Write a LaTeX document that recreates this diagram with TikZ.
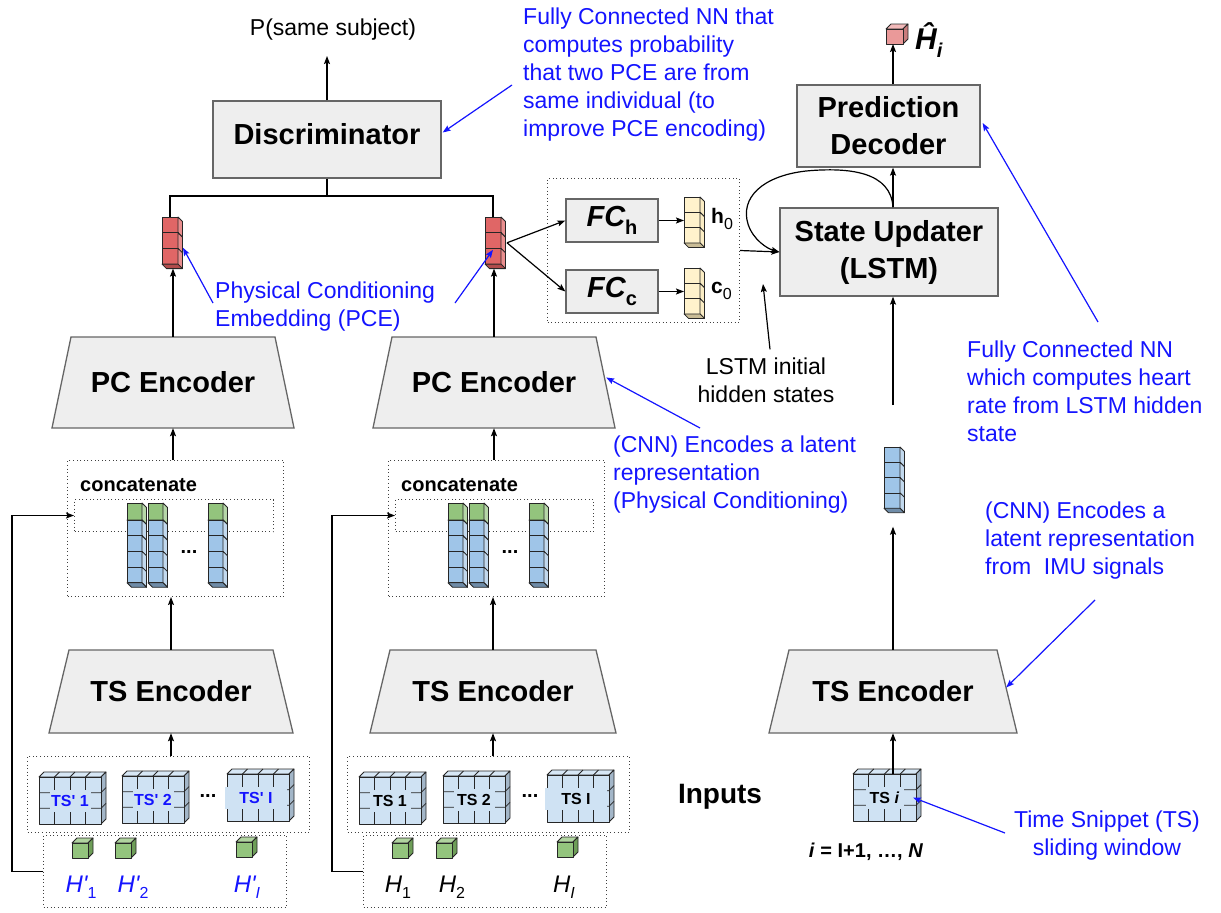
\documentclass[tikz,border=0pt]{standalone}
\usepackage{fontspec}
\setmainfont{Liberation Sans}
\usetikzlibrary{arrows.meta,calc}

\definecolor{boxfill}{HTML}{EEEEEE}
\definecolor{boxline}{HTML}{666666}
\definecolor{annot}{RGB}{20,20,255}
\definecolor{redF}{HTML}{E06666}
\definecolor{redS}{HTML}{EA8E8E}
\definecolor{redB}{HTML}{B04C4C}
\definecolor{bluF}{HTML}{9FC5E8}
\definecolor{bluS}{HTML}{C2D9EE}
\definecolor{bluB}{HTML}{6F8CA8}
\definecolor{grnF}{HTML}{93C47D}
\definecolor{grnS}{HTML}{B6D7A8}
\definecolor{grnT}{HTML}{B0D49F}
\definecolor{grnD}{HTML}{6E9E58}
\definecolor{ylwF}{HTML}{FFF2CC}
\definecolor{ylwS}{HTML}{FBEDC4}
\definecolor{ylwB}{HTML}{C9BC96}
\definecolor{tsF}{HTML}{CFE2F3}
\definecolor{tsT}{HTML}{D7E7F5}
\definecolor{tsS}{HTML}{A3B6C8}
\definecolor{pinkF}{HTML}{EA9999}
\definecolor{pinkT}{HTML}{F2BABA}
\definecolor{pinkS}{HTML}{C97C7C}

% depth of the cell stacks (towards the lower right)
\newcommand{\sdx}{4.5}
\newcommand{\sdy}{4.5}
% depth of the blocks (towards the upper right)
\newcommand{\bdx}{5}
\newcommand{\bdy}{5}

% vertical stack of cells: name, x, y (top left of front), cells, width, cell height, front, side, bottom
\newcommand{\cellstack}[9]{%
  \foreach \k in {1,...,#4}{%
    \filldraw[cubeline, fill=#7] ({#2},{#3+(\k-1)*#6}) rectangle ({#2+#5},{#3+\k*#6});
    \filldraw[cubeline, fill=#8] ({#2+#5},{#3+(\k-1)*#6}) -- ({#2+#5+\sdx},{#3+(\k-1)*#6+\sdy})
      -- ({#2+#5+\sdx},{#3+\k*#6+\sdy}) -- ({#2+#5},{#3+\k*#6}) -- cycle;
  }
  \filldraw[cubeline, fill=#9] ({#2},{#3+#4*#6}) -- ({#2+#5},{#3+#4*#6})
    -- ({#2+#5+\sdx},{#3+#4*#6+\sdy}) -- ({#2+\sdx},{#3+#4*#6+\sdy}) -- cycle;
  \node[anchor=north west, inner sep=0pt, outer sep=0pt, minimum width=#5,
        minimum height={#4*#6+\sdy}] (#1) at ({#2},{#3}) {};
}

% block with top and right faces: name, x, y, width, height, front, top, side
\newcommand{\blockbox}[8]{%
  \filldraw[cubeline, fill=#7] ({#2},{#3}) -- ({#2+\bdx},{#3-\bdy}) -- ({#2+#4+\bdx},{#3-\bdy}) -- ({#2+#4},{#3}) -- cycle;
  \filldraw[cubeline, fill=#8] ({#2+#4},{#3}) -- ({#2+#4+\bdx},{#3-\bdy}) -- ({#2+#4+\bdx},{#3+#5-\bdy}) -- ({#2+#4},{#3+#5}) -- cycle;
  \filldraw[cubeline, fill=#6] ({#2},{#3}) rectangle ({#2+#4},{#3+#5});
  \node[anchor=north west, inner sep=0pt, outer sep=0pt, minimum width=#4, minimum height=#5] (#1) at ({#2},{#3}) {};
}

% time snippet block with its 4x3 grid: name, x, y, width, label, label options, label colour
\newcommand{\tsbox}[7]{%
  \blockbox{#1}{#2}{#3}{#4}{47}{tsF}{tsT}{tsS}
  \foreach \k in {1,2,3}{%
    \draw[cubeline] ({#2+\k*#4/4},{#3}) -- ({#2+\k*#4/4},{#3+47});
    \draw[cubeline] ({#2+\k*#4/4},{#3}) -- ({#2+\k*#4/4+\bdx},{#3-\bdy});
  }
  \foreach \k in {1,2}{%
    \draw[cubeline] ({#2},{#3+\k*47/3}) -- ({#2+#4},{#3+\k*47/3}) -- ({#2+#4+\bdx},{#3+\k*47/3-\bdy});
  }
  \node[tslab, text=#7, #6] (#1-l) at (#1.center) {#5};
}

% encoder trapezium: name, centre x, top y, height, inset of the top edge, bottom width, text
\newcommand{\encoder}[7]{%
  \filldraw[encshape] ({#2-#6/2},{#3+#4}) -- ({#2+#6/2},{#3+#4}) -- ({#2+#6/2-#5},{#3}) -- ({#2-#6/2+#5},{#3}) -- cycle;
  \node[enctext, minimum width={#6-2*#5}, minimum height=#4] (#1) at ({#2},{#3+#4/2}) {#7};
}

% dotted frame: name, x1, y1, x2, y2
\newcommand{\dotframe}[5]{%
  \node[dotbox, anchor=north west, minimum width={#4-#2}, minimum height={#5-#3}] (#1) at (#2,#3) {};
}

\begin{document}
\begin{tikzpicture}[x=1pt, y=-1pt,
  mainbox/.style={draw=boxline, fill=boxfill, line width=1.3pt, inner sep=0pt, align=center,
                  font=\fontsize{29}{37}\selectfont\bfseries},
  encshape/.style={draw=boxline, fill=boxfill, line width=1.3pt},
  enctext/.style={inner sep=0pt, font=\fontsize{29}{35}\selectfont\bfseries},
  cubeline/.style={draw=black!85, line width=0.8pt, line join=round},
  dotbox/.style={draw=black!75, line width=1pt, dash pattern=on 1pt off 2.6pt, inner sep=0pt},
  tslab/.style={fill=tsF, inner sep=0pt, minimum height=22pt, minimum width=41pt,
                font=\fontsize{16}{16}\selectfont\bfseries},
  arr/.style={line width=1.2pt, -{Stealth[length=8pt,width=6pt,inset=1.5pt]}},
  barr/.style={arr, draw=annot},
  wire/.style={line width=1.2pt},
  annot/.style={text=annot, inner sep=0pt, align=left, font=\fontsize{23}{28}\selectfont},
  lbl/.style={inner sep=0pt, font=\fontsize{23}{28}\selectfont},
  hlab/.style={inner sep=0pt, font=\fontsize{24}{24}\selectfont\itshape},
]
\useasboundingbox (0,0) rectangle (1221,913);

% ---------- dotted frames ----------
\dotframe{fcbox}{547}{178}{739}{322}
\dotframe{concL}{67}{460}{283}{596}
\dotframe{innL}{74}{499}{273}{531}
\dotframe{concM}{388}{460}{604}{596}
\dotframe{innM}{395}{499}{593}{531}
\dotframe{tsbL}{27}{756}{309}{832}
\dotframe{hbL}{43}{835}{286}{907}
\dotframe{tsbM}{347}{756}{629}{832}
\dotframe{hbM}{363}{835}{606}{907}

% ---------- main blocks ----------
\node[mainbox, minimum width=228, minimum height=77, text depth=12pt] (disc) at (327,139.5) {Discriminator};
\node[lbl] (pout) at (333,30) {P(same subject)};
\node[mainbox, minimum width=183, minimum height=82] (pd) at (888.5,126) {Prediction\\Decoder};
\node[mainbox, minimum width=218, minimum height=88] (su) at (889,252) {State Updater\\(LSTM)};
\node[mainbox, minimum width=92, minimum height=43] (fch) at (612,220.5)
  {\itshape FC\raisebox{-8pt}{\fontsize{20}{20}\selectfont\upshape h}};
\node[mainbox, minimum width=92, minimum height=43] (fcc) at (612,291.5)
  {\itshape FC\raisebox{-8pt}{\fontsize{20}{20}\selectfont\upshape c}};

\encoder{pcL}{173}{337}{91}{19}{242}{PC Encoder}
\encoder{pcR}{494}{337}{91}{19}{242}{PC Encoder}
\encoder{tsL}{171}{650}{83}{20}{244}{TS Encoder}
\encoder{tsM}{493}{650}{83}{20}{246}{TS Encoder}
\encoder{tsR}{893}{650}{83}{20}{248}{TS Encoder}

% ---------- embeddings and states ----------
\cellstack{pceL}{162}{217}{3}{16}{15.7}{redF}{redS}{redB}
\cellstack{pceR}{485}{217}{3}{16}{15.7}{redF}{redS}{redB}
\cellstack{h0s}{684}{197}{3}{16}{15.3}{ylwF}{ylwS}{ylwB}
\cellstack{c0s}{684}{268}{3}{16}{15.3}{ylwF}{ylwS}{ylwB}
\node[anchor=west, inner sep=0pt, font=\fontsize{21}{21}\selectfont\bfseries] (h0t) at (711,219)
  {h\raisebox{-6pt}{\fontsize{16}{16}\selectfont\mdseries 0}};
\node[anchor=west, inner sep=0pt, font=\fontsize{21}{21}\selectfont\bfseries] (c0t) at (711,291)
  {c\raisebox{-6pt}{\fontsize{16}{16}\selectfont\mdseries 0}};
\cellstack{colR}{884}{447}{4}{16}{15.3}{bluF}{bluS}{bluB}
\blockbox{hcube}{886}{29}{17}{15}{pinkF}{pinkT}{pinkS}
\node[anchor=west, inner sep=0pt, font=\fontsize{30}{30}\selectfont\bfseries\itshape] (hhat) at (915,40)
  {Ĥ\raisebox{-8pt}{\fontsize{20}{20}\selectfont i}};

% ---------- concatenated columns ----------
\node[anchor=west, inner sep=0pt, font=\fontsize{20}{20}\selectfont\bfseries] (catL) at (80,485) {concatenate};
\node[anchor=west, inner sep=0pt, font=\fontsize{20}{20}\selectfont\bfseries] (catM) at (401,485) {concatenate};
\cellstack{gL1}{127}{503}{1}{15}{17}{grnF}{grnS}{grnD}
\cellstack{bL1}{127}{520}{4}{15}{15.7}{bluF}{bluS}{bluB}
\cellstack{gL2}{148}{503}{1}{15}{17}{grnF}{grnS}{grnD}
\cellstack{bL2}{148}{520}{4}{15}{15.7}{bluF}{bluS}{bluB}
\cellstack{gL3}{208}{503}{1}{15}{17}{grnF}{grnS}{grnD}
\cellstack{bL3}{208}{520}{4}{15}{15.7}{bluF}{bluS}{bluB}
\cellstack{gM1}{448}{503}{1}{15}{17}{grnF}{grnS}{grnD}
\cellstack{bM1}{448}{520}{4}{15}{15.7}{bluF}{bluS}{bluB}
\cellstack{gM2}{469}{503}{1}{15}{17}{grnF}{grnS}{grnD}
\cellstack{bM2}{469}{520}{4}{15}{15.7}{bluF}{bluS}{bluB}
\cellstack{gM3}{529}{503}{1}{15}{17}{grnF}{grnS}{grnD}
\cellstack{bM3}{529}{520}{4}{15}{15.7}{bluF}{bluS}{bluB}
\node[anchor=base, inner sep=0pt, font=\fontsize{20}{20}\selectfont\bfseries] (dotsL) at (189,553) {...};
\node[anchor=base, inner sep=0pt, font=\fontsize{20}{20}\selectfont\bfseries] (dotsM) at (510,553) {...};

% ---------- inputs ----------
\tsbox{tsp1}{39}{777}{62}{TS\textquotesingle\ 1}{}{annot}
\tsbox{tsp2}{122}{776}{62}{TS\textquotesingle\ 2}{}{annot}
\tsbox{tspI}{227}{774}{62}{TS\textquotesingle\ I}{minimum width=62pt, xshift=-2pt}{annot}
\tsbox{ts1}{359}{777}{62}{TS 1}{}{black}
\tsbox{ts2}{443}{776}{62}{TS 2}{}{black}
\tsbox{tsI}{547}{775}{62}{TS I}{minimum width=62pt, xshift=-2pt}{black}
\tsbox{tsi}{853}{774}{63}{TS \textit{i}}{minimum width=38pt}{black}
\node[anchor=base, inner sep=0pt, font=\fontsize{20}{20}\selectfont\bfseries] (tdotsL) at (208,797) {...};
\node[anchor=base, inner sep=0pt, font=\fontsize{20}{20}\selectfont\bfseries] (tdotsM) at (530,797) {...};

\blockbox{gc1}{72}{843}{16}{15}{grnF}{grnT}{grnD}
\blockbox{gc2}{115}{843}{16}{15}{grnF}{grnT}{grnD}
\blockbox{gcI}{236}{842}{16}{15}{grnF}{grnT}{grnD}
\blockbox{gd1}{392}{843}{16}{15}{grnF}{grnT}{grnD}
\blockbox{gd2}{436}{843}{16}{15}{grnF}{grnT}{grnD}
\blockbox{gdI}{557}{842}{16}{15}{grnF}{grnT}{grnD}

\node[hlab, text=annot] (hp1) at (81,887) {H\textquotesingle\raisebox{-6pt}{\fontsize{16}{16}\selectfont\upshape 1}};
\node[hlab, text=annot] (hp2) at (133,887) {H\textquotesingle\raisebox{-6pt}{\fontsize{16}{16}\selectfont\upshape 2}};
\node[hlab, text=annot] (hpI) at (247,887) {H\textquotesingle\raisebox{-6pt}{\fontsize{16}{16}\selectfont I}};
\node[hlab] (h1) at (398,887) {H\raisebox{-6pt}{\fontsize{16}{16}\selectfont\upshape 1}};
\node[hlab] (h2) at (452,887) {H\raisebox{-6pt}{\fontsize{16}{16}\selectfont\upshape 2}};
\node[hlab] (hI) at (564,887) {H\raisebox{-6pt}{\fontsize{16}{16}\selectfont I}};

\node[inner sep=0pt, font=\fontsize{28}{28}\selectfont\bfseries] (inputs) at (720,797) {Inputs};
\node[inner sep=0pt, font=\fontsize{20}{20}\selectfont\bfseries] (irange) at (866,852) {\textit{i} = I+1, …, \textit{N}};

% ---------- black connectors ----------
\coordinate (ptip) at (327,56);
\coordinate (dj) at (327,196);
\coordinate (axis) at (893,0);
\coordinate (lstmin) at (893,405);
\coordinate (lstmtip) at (763,284);

\draw[arr] (disc.north) -- (ptip);
\draw[wire] (disc.south) -- (dj) -| (pceL.north);
\draw[wire] (dj) -| (pceR.north);
\draw[arr] (pcL.north) -- (pcL.north |- pceL.south);
\draw[arr] (pcR.north) -- (pcR.north |- pceR.south);

\coordinate (pceRo) at ($(pceR.east)+(6,0)$);
\draw[arr] (pceRo) -- (fch.west);
\draw[arr] (pceRo) -- (fcc.west);
\draw[arr] (fch.east) -- (fch.east -| h0s.west);
\draw[arr] (fcc.east) -- (fcc.east -| c0s.west);
\draw[arr] (fcbox.east) -- (su.west);
\draw[arr] (su.north -| axis) .. controls (891,172) and (850,167) .. (806,171)
  .. controls (762,176) and (740,198) .. (748,224)
  .. controls (753,240) and (768,249) .. (su.west);
\draw[arr] (su.north -| axis) -- (pd.south -| axis);
\draw[arr] (pd.north -| axis) -- (hcube.south -| axis);
\draw[arr] (lstmin) -- (lstmin |- su.south);
\draw[arr, shorten >=14pt] (tsR.north -| axis) -- (colR.south -| axis);
\draw[arr] (tsi.north -| axis) -- (tsR.south -| axis);

\draw[arr] (tsL.south |- tsbL.north) -- (tsL.south);
\draw[arr] (tsL.north) -- (tsL.north |- concL.south);
\draw[arr] (pcL.south |- concL.north) -- (pcL.south);
\draw[arr] (tsM.south |- tsbM.north) -- (tsM.south);
\draw[arr] (tsM.north) -- (tsM.north |- concM.south);
\draw[arr] (pcR.south |- concM.north) -- (pcR.south);

\draw[arr] (hbL.west) -- ++(-31,0) |- (innL.west);
\draw[arr] (hbM.west) -- ++(-31,0) |- (innM.west);

\node[lbl, align=center] (lstmtxt) at (766,380) {LSTM initial\\hidden states};
\draw[arr] ($(lstmtxt.north)+(4,-8)$) -- (lstmtip);

% ---------- annotations ----------
\node[annot, anchor=north west] (n1) at (523,8) {Fully Connected NN that\\computes probability\\that two PCE are from\\same individual (to\\improve PCE encoding)};
\node[annot, anchor=north west] (n2) at (215,282) {Physical Conditioning\\Embedding (PCE)};
\node[annot, anchor=north west] (n3) at (613,436) {(CNN) Encodes a latent\\representation\\(Physical Conditioning)};
\node[annot, anchor=north west] (n4) at (967,341) {Fully Connected NN\\which computes heart\\rate from LSTM hidden\\state};
\node[annot, anchor=north west] (n5) at (985,502) {(CNN) Encodes a\\latent representation\\from\ \ IMU signals};
\node[annot, align=center, anchor=north] (n6) at (1107,811) {Time Snippet (TS)\\sliding window};

\coordinate (n1a) at (512,85);
\coordinate (n2a) at (213,303);
\coordinate (n2b) at (455,303);
\coordinate (n3a) at (700,428);
\coordinate (n4a) at (1098,322);
\coordinate (n5a) at (1095,600);
\coordinate (n6a) at (1005,833);
\draw[barr] (n1a) -- ($(disc.east)+(1,-7)$);
\draw[barr] (n2a) -- ($(pceL.east)+(5,5)$);
\draw[barr] (n2b) -- ($(pceR.center)+(0,7)$);
\draw[barr] (n3a) -- ($(pcR.east)+(10,-5)$);
\draw[barr] (n4a) -- ($(pd.east)+(2,-3)$);
\draw[barr] (n5a) -- ($(tsR.east)+(9,-4)$);
\draw[barr] (n6a) -- ($(tsi.east)+(-3,0)$);
\end{tikzpicture}
\end{document}
